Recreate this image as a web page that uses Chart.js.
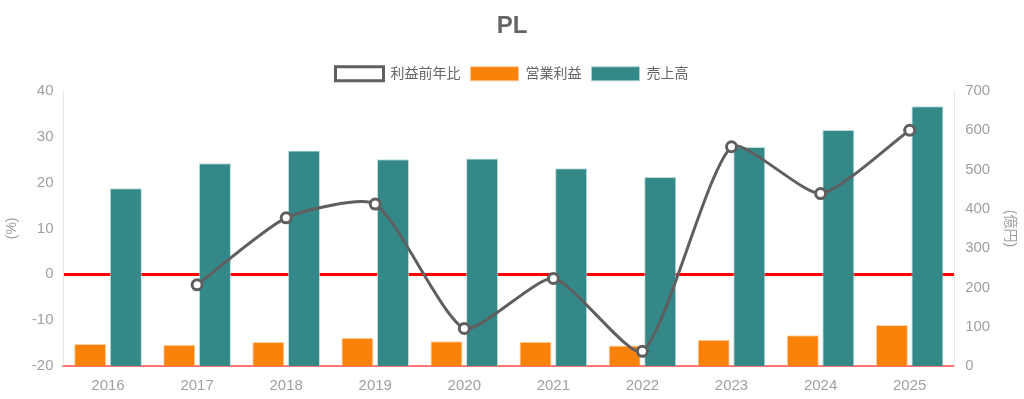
<!DOCTYPE html>
<html>
<head>
<meta charset="utf-8">
<script src="https://cdn.jsdelivr.net/npm/chart.js@4"></script>
<style>
  html, body { margin: 0; padding: 0; background: #fff; }
  #wrap { width: 1024px; height: 399px; }
</style>
</head>
<body>
<div id="wrap"><canvas id="chart"></canvas></div>
<script>
const years = ["2016", "2017", "2018", "2019", "2020", "2021", "2022", "2023", "2024", "2025"];

// 利益前年比 (%)
const profitYoY = [null, -2.3, 12.3, 15.3, -11.8, -0.9, -16.8, 27.8, 17.6, 31.4];
// 営業利益 (億円)
const operatingProfit = [56, 54, 61, 72, 63, 62, 52, 67, 78, 104];
// 売上高 (億円)
const sales = [452, 516, 548, 526, 528, 503, 481, 557, 600, 661];

const font = "'Liberation Sans', Arial, 'Noto Sans CJK JP', sans-serif";
Chart.defaults.font.family = font;

new Chart(document.getElementById("chart"), {
  type: "bar",
  data: {
    labels: years,
    datasets: [
      {
        type: "line",
        label: "利益前年比",
        data: profitYoY,
        yAxisID: "y",
        borderColor: "#5f5f5f",
        backgroundColor: "#fff",
        borderWidth: 3,
        pointRadius: 5,
        pointBorderWidth: 3,
        pointBackgroundColor: "#fff",
        pointBorderColor: "#5f5f5f",
        tension: 0.2,
        order: 0
      },
      {
        label: "営業利益",
        data: operatingProfit,
        yAxisID: "y1",
        backgroundColor: "#fa820a",
        borderColor: "rgba(255,200,150,0.8)",
        borderWidth: 1,
        order: 1
      },
      {
        label: "売上高",
        data: sales,
        yAxisID: "y1",
        backgroundColor: "#348888",
        borderColor: "rgba(170,215,215,0.8)",
        borderWidth: 1,
        order: 1
      }
    ]
  },
  options: {
    responsive: true,
    maintainAspectRatio: false,
    animation: false,
    layout: { padding: { left: 0, right: 0, bottom: 1, top: 0 } },
    plugins: {
      title: {
        display: true,
        text: "PL",
        color: "#666",
        font: { size: 24, weight: "bold" },
        padding: { top: 12, bottom: 16 }
      },
      legend: {
        labels: {
          color: "#666",
          font: { size: 14 },
          boxWidth: 48,
          boxHeight: 14
        }
      },
      tooltip: { enabled: false }
    },
    scales: {
      x: {
        grid: { display: false },
        border: { color: "rgba(255,80,80,0.8)", width: 2 },
        ticks: { color: "#a0a0a0", font: { size: 15 }, padding: 3 }
      },
      y: {
        position: "left",
        min: -20,
        max: 40,
        ticks: { stepSize: 10, color: "#a0a0a0", font: { size: 15 }, padding: 10 },
        grid: {
          color: ctx => ctx.tick && ctx.tick.value === 0 ? "#ff0000" : "transparent",
          lineWidth: ctx => ctx.tick && ctx.tick.value === 0 ? 3 : 0,
          drawTicks: false
        },
        border: { color: "#e6e6e6" },
        title: { display: true, text: "(%)", color: "#a0a0a0", font: { size: 14 }, padding: { top: 4, bottom: 1 } }
      },
      y1: {
        position: "right",
        min: 0,
        max: 700,
        ticks: { stepSize: 100, color: "#a0a0a0", font: { size: 15 }, padding: 11 },
        grid: { display: false, drawTicks: false },
        border: { color: "#e6e6e6" },
        title: { display: true, text: "(億円)", color: "#a0a0a0", font: { size: 14 }, padding: { top: 6, bottom: 0 } }
      }
    }
  }
});
</script>
</body>
</html>
